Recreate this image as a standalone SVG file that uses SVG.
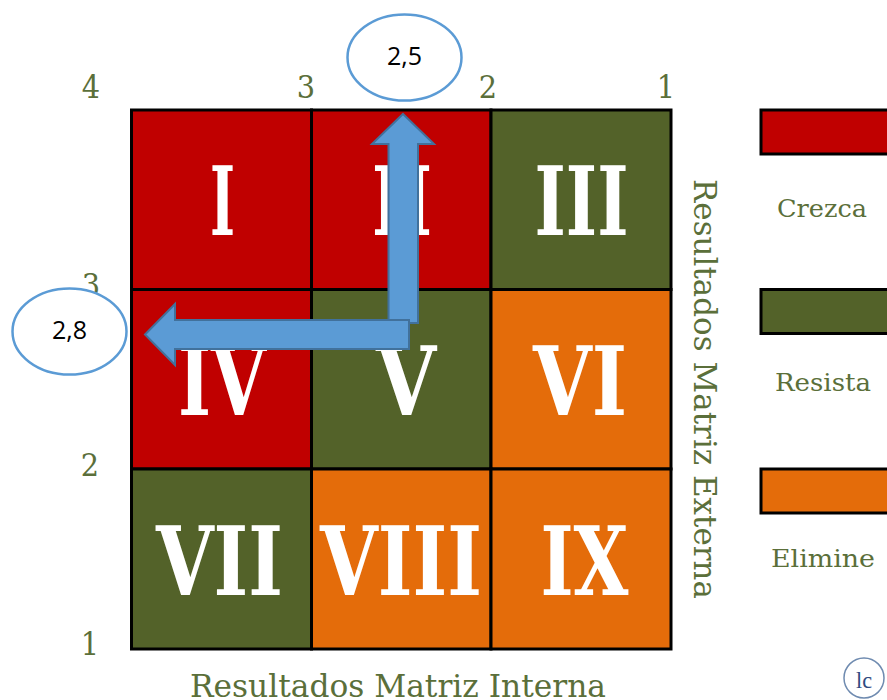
<svg xmlns="http://www.w3.org/2000/svg" width="887" height="700" viewBox="0 0 887 700">
<style>
.cell{stroke:#000;stroke-width:3}
.r{fill:#c00000}.g{fill:#536229}.o{fill:#e46c0a}
.rom{font-family:"DejaVu Serif Condensed","DejaVu Serif",serif;font-stretch:condensed;font-weight:bold;font-size:96px;fill:#fff;text-anchor:middle}
.lab{font-family:"DejaVu Serif Condensed","DejaVu Serif",serif;font-stretch:condensed;fill:#5b6f3a;text-anchor:middle}
.num{font-size:32px}
.leg{font-size:24px}
.title{font-size:32px}
.arrow{fill:#5b9bd5;stroke:#41719c;stroke-width:2}
.bub{fill:#fff;stroke:#5b9bd5;stroke-width:2.5}
.bt{font-family:"Open Sans",sans-serif;font-size:25px;fill:#000;text-anchor:middle}
</style>
<rect width="887" height="700" fill="#fff"/>
<g id="axis-labels">
<text class="lab num" x="91" y="98">4</text>
<text class="lab num" x="306" y="98">3</text>
<text class="lab num" x="488" y="98">2</text>
<text class="lab num" x="666" y="98">1</text>
<text class="lab num" x="91" y="296">3</text>
<text class="lab num" x="90" y="476">2</text>
<text class="lab num" x="90" y="655">1</text>
<text class="lab title" x="398" y="697" textLength="416" lengthAdjust="spacingAndGlyphs">Resultados Matriz Interna</text>
<text class="lab title" transform="translate(694 389) rotate(90)" textLength="420" lengthAdjust="spacingAndGlyphs">Resultados Matriz Externa</text>
</g>
<g id="cell-I"><rect class="cell r" x="131.5" y="110" width="180" height="179.5"/><text class="rom" x="222.500" y="235" textLength="25" lengthAdjust="spacingAndGlyphs">I</text></g>
<g id="cell-II"><rect class="cell r" x="311.500" y="110" width="179.500" height="179.5"/><text class="rom" x="402" y="235" textLength="60" lengthAdjust="spacingAndGlyphs">II</text></g>
<g id="cell-III"><rect class="cell g" x="491" y="110" width="180" height="179.5"/><text class="rom" x="581.500" y="235" textLength="94" lengthAdjust="spacingAndGlyphs">III</text></g>
<g id="cell-IV"><rect class="cell r" x="131.5" y="289.500" width="180" height="179.500"/><text class="rom" x="222" y="415" textLength="88" lengthAdjust="spacingAndGlyphs">IV</text></g>
<g id="cell-V"><rect class="cell g" x="311.500" y="289.500" width="179.500" height="179.500"/><text class="rom" x="406" y="415" textLength="60" lengthAdjust="spacingAndGlyphs">V</text></g>
<g id="cell-VI"><rect class="cell o" x="491" y="289.500" width="180" height="179.500"/><text class="rom" x="580" y="415" textLength="94" lengthAdjust="spacingAndGlyphs">VI</text></g>
<g id="cell-VII"><rect class="cell g" x="131.5" y="469" width="180" height="180"/><text class="rom" x="219.500" y="595" textLength="127" lengthAdjust="spacingAndGlyphs">VII</text></g>
<g id="cell-VIII"><rect class="cell o" x="311.500" y="469" width="179.500" height="180"/><text class="rom" x="401" y="595" textLength="162" lengthAdjust="spacingAndGlyphs">VIII</text></g>
<g id="cell-IX"><rect class="cell o" x="491" y="469" width="180" height="180"/><text class="rom" x="584.500" y="595" textLength="88" lengthAdjust="spacingAndGlyphs">IX</text></g>
<g id="legend-crezca"><rect class="cell r" x="761" y="110" width="140" height="44"/><text class="lab leg" x="822" y="217" textLength="90" lengthAdjust="spacingAndGlyphs">Crezca</text></g>
<g id="legend-resista"><rect class="cell g" x="761" y="289.500" width="140" height="44"/><text class="lab leg" x="823" y="391" textLength="96" lengthAdjust="spacingAndGlyphs">Resista</text></g>
<g id="legend-elimine"><rect class="cell o" x="761" y="469" width="140" height="44"/><text class="lab leg" x="823" y="567" textLength="104" lengthAdjust="spacingAndGlyphs">Elimine</text></g>
<g id="connectors">
<path class="arrow" d="M403 114 L434 144 L418 144 L418 323 L388.500 323 L388.500 144 L372 144 Z"/>
<path class="arrow" d="M145 334.500 L175 304 L175 320 L409 320 L409 349 L175 349 L175 365 Z"/>
</g>
<g id="bubble-25"><ellipse class="bub" cx="404.500" cy="57.500" rx="57" ry="43"/><text class="bt" x="404.500" y="65">2,5</text></g>
<g id="bubble-28"><ellipse class="bub" cx="69.500" cy="331.500" rx="57" ry="43"/><text class="bt" x="69.500" y="339">2,8</text></g>
<g id="logo"><circle cx="864" cy="678" r="20" fill="#fff" stroke="#6f8bb0" stroke-width="1.500"/><text x="864" y="688" font-family="Liberation Serif,serif" font-size="24" fill="#2f4a80" text-anchor="middle" textLength="16" lengthAdjust="spacingAndGlyphs">lc</text></g>
</svg>
